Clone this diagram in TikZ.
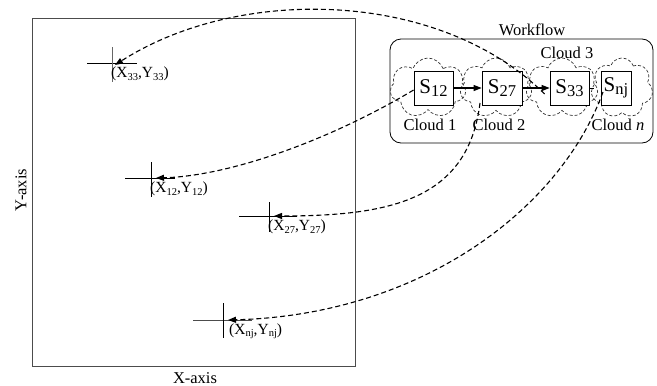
\documentclass[tikz,border=0pt]{standalone}
\usepackage{fontspec}
\setmainfont{Liberation Serif}
\usetikzlibrary{shapes.symbols,arrows.meta}
\newcommand{\ssub}[1]{\raisebox{-0.3ex}{\fontsize{16.5}{18}\selectfont #1}}
\newcommand{\xsub}[1]{\raisebox{-0.35ex}{\fontsize{10.5}{12}\selectfont #1}}
\tikzset{
  txt/.style={font=\fontsize{16.5}{19}\selectfont, inner sep=0pt},
  ctxt/.style={font=\fontsize{15.5}{18}\selectfont, inner sep=0pt},
  svc/.style={draw, fill=white, line width=0.8pt, inner sep=0pt, font=\fontsize{21}{24}\selectfont},
  cld/.style={cloud, cloud puffs=7, cloud puff arc=140, cloud ignores aspect, draw=black!80, dashed, dash pattern=on 3pt off 2pt, line width=0.7pt, inner sep=0pt},
  crossln/.style={line width=0.8pt},
  link/.style={dashed, dash pattern=on 5pt off 3pt, line width=1.1pt, -{Triangle[length=8pt,width=6pt]}},
  flow/.style={line width=1.1pt, -{Triangle[length=8pt,width=6pt]}}
}
\begin{document}
\begin{tikzpicture}[x=1pt,y=-1pt]
\useasboundingbox (0,0) rectangle (657,386);
% plane
\draw[black!70, line width=0.9pt] (32,18) rectangle (355,366);
\node[txt] (xaxis) at (195,378) {X-axis};
\node[txt, rotate=90] (yaxis) at (21,190) {Y-axis};
% crosses
\coordinate (c33) at (112,63);
\coordinate (c12) at (151,178);
\coordinate (c27) at (269,216);
\coordinate (cnj) at (223,320);
\draw[crossln] (87,63) -- (137,63);
\draw[crossln, black!60] (112,47) -- (112,82);
\draw[crossln] (125,178) -- (175,178);
\draw[crossln] (151,162) -- (151,197);
\draw[crossln] (239,216) -- (297,216);
\draw[crossln] (269,202) -- (269,232);
\draw[crossln, black!70] (193,320) -- (252,320);
\draw[crossln] (223,303) -- (223,338);
\node[ctxt, anchor=west] (l33) at (111,74) {(X\xsub{33},Y\xsub{33})};
\node[ctxt, anchor=west] (l12) at (150,189) {(X\xsub{12},Y\xsub{12})};
\node[ctxt, anchor=west] (l27) at (268,227) {(X\xsub{27},Y\xsub{27})};
\node[ctxt, anchor=west] (lnj) at (229,331) {(X\xsub{nj},Y\xsub{nj})};
% workflow
\node[txt] (wftitle) at (532,30) {Workflow};
\draw[line width=0.8pt, rounded corners=11pt] (390,39) rectangle (653,143);
\node[cld, minimum width=76pt, minimum height=60pt] (cl1) at (428,88) {};
\node[cld, minimum width=72pt, minimum height=60pt] (cl2) at (496,88) {};
\node[cld, minimum width=72pt, minimum height=60pt] (cl3) at (562,88) {};
\node[cld, minimum width=62pt, minimum height=60pt] (cln) at (622,88) {};
\node[svc, minimum width=39pt, minimum height=34pt] (s12) at (433.5,88) {S\ssub{12}};
\node[svc, minimum width=40pt, minimum height=34pt] (s27) at (502,88) {S\ssub{27}};
\node[svc, minimum width=39pt, minimum height=34pt] (s33) at (569.5,88) {S\ssub{33}};
\node[svc, minimum width=30pt, minimum height=34pt] (snj) at (616,88) {S\ssub{nj}};
\node[txt] (t1) at (430,125) {Cloud 1};
\node[txt] (t2) at (499,125) {Cloud 2};
\node[txt] (t3) at (567,53) {Cloud 3};
\node[txt] (tn) at (618,125) {Cloud \textit{n}};
\draw[flow] (s12) -- (s27);
\draw[flow] (s27) -- (s33);
\draw[line width=0.8pt] (s33.east) -- ([xshift=5pt]s33.east);
% mapping links
\draw[link] ([xshift=-5pt,yshift=-6pt]s33.west) .. controls (440,-10) and (240,-15) .. ([xshift=3pt,yshift=-2pt]c33);
\draw[link] ([yshift=-2pt]s12.west) .. controls (330,140) and (230,176) .. ([xshift=5pt]c12);
\draw[link] ([xshift=-22pt,yshift=-15pt]s27.center) .. controls (468,200) and (390,216) .. ([xshift=5pt]c27);
\draw[link] ([xshift=-13pt,yshift=-4pt]snj.center) .. controls (560,210) and (420,315) .. ([xshift=5pt]cnj);
\end{tikzpicture}
\end{document}
